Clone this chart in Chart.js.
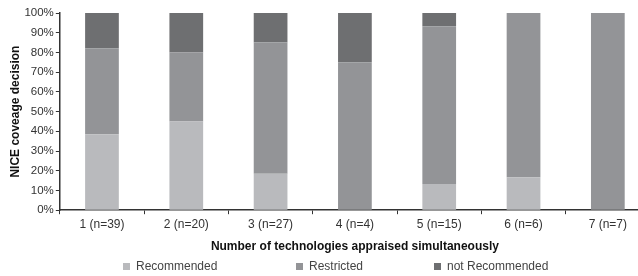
<!DOCTYPE html>
<html>
<head>
<meta charset="utf-8">
<script src="https://cdn.jsdelivr.net/npm/chart.js@4/dist/chart.umd.min.js"></script>
<style>
  html, body { margin: 0; padding: 0; background: #fff; overflow: hidden; }
  #wrap { position: relative; width: 650px; height: 276px; }
  .legend { position: absolute; top: 259px; font: 12px 'Liberation Sans', Arial, sans-serif; color: #444; white-space: nowrap; }
  .legend span.box { display: inline-block; width: 7px; height: 7px; margin-right: 6px; vertical-align: 0px; }
</style>
</head>
<body>
<div id="wrap"><canvas id="chart"></canvas></div>
<script>
// categories and stacked shares (percent of technologies per group)
var categories = ["1 (n=39)", "2 (n=20)", "3 (n=27)", "4 (n=4)", "5 (n=15)", "6 (n=6)", "7 (n=7)"];
var recommended = [38.5, 45, 18.5, 0, 13.3, 16.7, 0];
var restricted = [43.6, 35, 66.7, 75, 80, 83.3, 100];
var notRecommended = [17.9, 20, 14.8, 25, 6.7, 0, 0];
var yTicks = [0, 10, 20, 30, 40, 50, 60, 70, 80, 90, 100];
var legendLeft = [123, 296, 434];

Chart.defaults.font.family = "'Liberation Sans', Arial, sans-serif";
Chart.defaults.font.size = 12;
Chart.defaults.color = "#333";

var ctx = document.getElementById("chart").getContext("2d");
var chart = new Chart(ctx, {
    type: "bar",
    data: {
        labels: categories,
        datasets: [
            { label: "Recommended", data: recommended, backgroundColor: "#b9babd" },
            { label: "Restricted", data: restricted, backgroundColor: "#939497" },
            { label: "not Recommended", data: notRecommended, backgroundColor: "#6e6f71" }
        ]
    },
    options: {
        responsive: true,
        maintainAspectRatio: false,
        animation: false,
        layout: { padding: { top: 13, left: 8, right: 0, bottom: 22 } },
        datasets: {
            bar: { barPercentage: 0.8, categoryPercentage: 0.5 }
        },
        scales: {
            x: {
                stacked: true,
                grid: { drawOnChartArea: false, drawTicks: true, tickLength: 4, color: "#333" },
                border: { color: "#333", width: 1.5 },
                ticks: { padding: 3, maxRotation: 0, autoSkip: false },
                title: {
                    display: true,
                    text: "Number of technologies appraised simultaneously",
                    font: { weight: "bold", size: 12 },
                    color: "#111",
                    padding: { top: 5, bottom: 0 }
                }
            },
            y: {
                stacked: true,
                min: 0,
                max: 100,
                afterBuildTicks: function(scale) {
                    scale.ticks = yTicks.map(function(v) { return { value: v }; });
                },
                grid: { drawOnChartArea: false, drawTicks: true, tickLength: 4, color: "#333" },
                border: { color: "#333", width: 1.5 },
                ticks: {
                    padding: 2,
                    autoSkip: false,
                    font: { size: 11.5 },
                    callback: function(v) { return v + "%"; }
                },
                title: {
                    display: true,
                    text: "NICE coveage decision",
                    font: { weight: "bold", size: 12 },
                    color: "#111",
                    padding: { top: 0, bottom: 0 }
                }
            }
        },
        plugins: {
            legend: { display: false },
            tooltip: { enabled: false }
        }
    }
});

// legend built from the chart's own datasets
chart.data.datasets.forEach(function(ds, i) {
    var item = document.createElement("div");
    item.className = "legend";
    item.style.left = legendLeft[i] + "px";
    item.innerHTML = '<span class="box" style="background:' + ds.backgroundColor + '"></span>' + ds.label;
    document.getElementById("wrap").appendChild(item);
});
</script>
</body>
</html>
